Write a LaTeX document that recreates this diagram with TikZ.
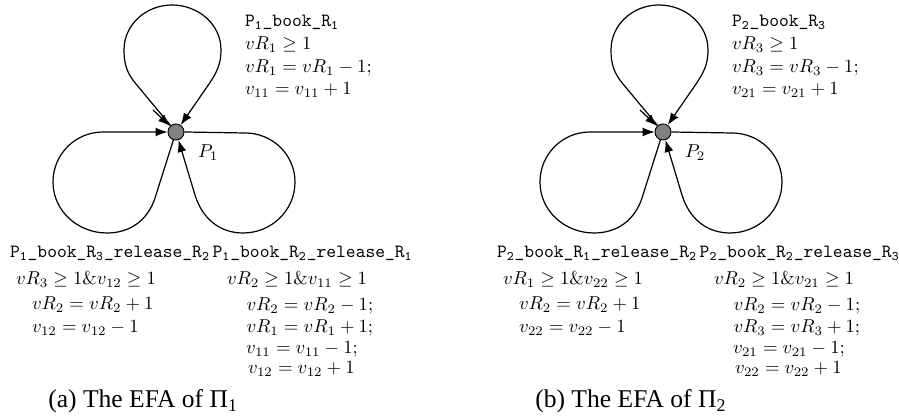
\documentclass[tikz,border=0pt]{standalone}
\usepackage{fontspec}
\newfontfamily\capfont{Liberation Serif}
\usetikzlibrary{arrows.meta}
\tikzset{
  efastate/.style={circle, draw=black, line width=0.5pt, fill=gray, minimum size=8.6pt, inner sep=0pt},
  arr/.style={line width=0.65pt, -{Latex[length=6.4pt,width=4.8pt]}},
  txt/.style={anchor=base west, inner sep=0pt, outer sep=0pt},
  captxt/.style={anchor=base west, inner sep=0pt, outer sep=0pt, font=\capfont\fontsize{13.7}{16}\selectfont},
}
\newcommand\tsub[1]{\textsubscript{#1}}
% #1 prefix, #2 x shift, #3 process index, #4 resource booked alone, #5 resource booked in left loop, #6 caption letter
\newcommand\efapanel[6]{%
\begin{scope}[shift={(#2,0)}]
  \node[efastate] (#1n) at (176,287) {};
  \node[txt] (#1name) at (198,261) {$P_{#3}$};
  % initial arrow
  \coordinate (#1init) at (153,309);
  \draw[arr] (#1init) -- (#1n.135);
  % top loop
  \coordinate (#1ta) at (136,335);
  \coordinate (#1tl) at (124,369);
  \coordinate (#1tt) at (172,414);
  \coordinate (#1tr) at (221,369);
  \coordinate (#1tb) at (209,335);
  \draw[arr] (#1n.130) -- (#1ta) to[out=130,in=-90] (#1tl) to[out=90,in=180] (#1tt)
     to[out=0,in=90] (#1tr) to[out=-90,in=56] (#1tb) -- (#1n.56);
  % left loop
  \coordinate (#1lc) at (155,221);
  \coordinate (#1lb) at (107,186);
  \coordinate (#1ll) at (53,237);
  \coordinate (#1lt) at (103,287);
  \draw[arr] (#1n.252) -- (#1lc) to[out=252,in=0] (#1lb) to[out=180,in=-90] (#1ll)
     to[out=90,in=180] (#1lt) -- (#1n.180);
  % right loop
  \coordinate (#1ra) at (245,286);
  \coordinate (#1rr) at (295,237);
  \coordinate (#1rb) at (243,186);
  \coordinate (#1rc) at (195,224);
  \draw[arr] (#1n.0) -- (#1ra) to[out=0,in=90] (#1rr) to[out=-90,in=0] (#1rb)
     to[out=180,in=-73] (#1rc) -- (#1n.-73);
  % top label
  \node[txt] (#1ta1) at (245,392.3) {\texttt{P\tsub{#3}\_book\_R\tsub{#4}}};
  \node[txt] (#1ta2) at (245,369) {$vR_{#4} \geq 1$};
  \node[txt] (#1ta3) at (245,346.3) {$vR_{#4} = vR_{#4} - 1;$};
  \node[txt] (#1ta4) at (245,324.7) {$v_{#31} = v_{#31} + 1$};
  % bottom-left label
  \node[txt] (#1la1) at (10,161.3) {\texttt{P\tsub{#3}\_book\_R\tsub{#5}\_release\_R\tsub{2}}};
  \node[txt] (#1la2) at (16,134) {$vR_{#5} \geq 1 \& v_{#32} \geq 1$};
  \node[txt] (#1la3) at (32,109) {$vR_2 = vR_2 + 1$};
  \node[txt] (#1la4) at (32,86.3) {$v_{#32} = v_{#32} - 1$};
  % bottom-right label
  \node[txt] (#1ra1) at (212.7,161.3) {\texttt{P\tsub{#3}\_book\_R\tsub{2}\_release\_R\tsub{#4}}};
  \node[txt] (#1ra2) at (227,134) {$vR_2 \geq 1 \& v_{#31} \geq 1$};
  \node[txt] (#1ra3) at (246.5,108.3) {$vR_2 = vR_2 - 1;$};
  \node[txt] (#1ra4) at (246.5,86.7) {$vR_{#4} = vR_{#4} + 1;$};
  \node[txt] (#1ra5) at (246,65) {$v_{#31} = v_{#31} - 1;$};
  \node[txt] (#1ra6) at (248,45) {$v_{#32} = v_{#32} + 1$};
  % caption
  \node[captxt] (#1cap) at (48.3,11.3) {(#6) The EFA of Π\raisebox{-0.35ex}{\fontsize{9.6}{10}\selectfont #3}};
\end{scope}}

\begin{document}
\begin{tikzpicture}[x=0.536pt, y=0.536pt]
  \useasboundingbox (0,0) rectangle (899,419);
  \efapanel{A}{0}{1}{1}{3}{a}
  \efapanel{B}{487}{2}{3}{1}{b}
\end{tikzpicture}
\end{document}
